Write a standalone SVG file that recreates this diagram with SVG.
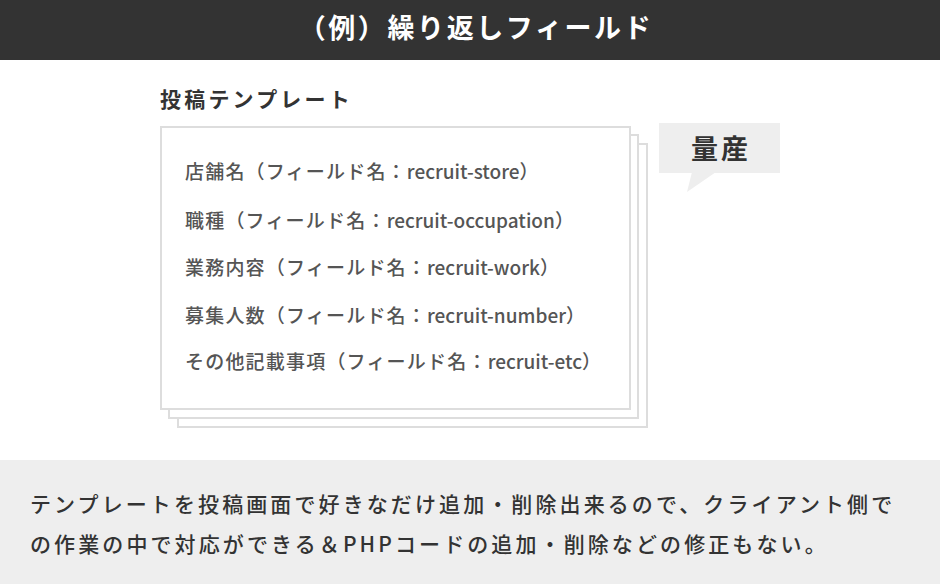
<svg xmlns="http://www.w3.org/2000/svg" width="940" height="584" viewBox="0 0 940 584">
<style>
text{font-family:"Noto Sans CJK JP","Noto Sans",sans-serif}
.card{fill:#fff;stroke:#ddd;stroke-width:2}
.item{font-size:19px;fill:#555;font-weight:500;letter-spacing:1.2px}
.lat{letter-spacing:0}
.desc{font-size:21px;fill:#333;font-weight:500;letter-spacing:3.1px}
</style>
<rect x="0" y="0" width="940" height="584" fill="#fff"/>
<g id="header">
<rect x="0" y="0" width="940" height="60" fill="#333"/>
<text x="476" y="38" text-anchor="middle" font-size="27" font-weight="700" fill="#fff" letter-spacing="2.6">（例）繰り返しフィールド</text>
</g>
<g id="template">
<text x="160" y="107" font-size="21" font-weight="700" fill="#333" letter-spacing="3.2">投稿テンプレート</text>
<rect class="card" x="178" y="144" width="469" height="283"/>
<rect class="card" x="169" y="135" width="469" height="283"/>
<rect class="card" x="161" y="127" width="469" height="282"/>
<text class="item" x="185" y="179">店舗名（フィールド名：<tspan class="lat">recruit-store</tspan>）</text>
<text class="item" x="185" y="228">職種（フィールド名：<tspan class="lat">recruit-occupation</tspan>）</text>
<text class="item" x="185" y="275">業務内容（フィールド名：<tspan class="lat">recruit-work</tspan>）</text>
<text class="item" x="185" y="323">募集人数（フィールド名：<tspan class="lat">recruit-number</tspan>）</text>
<text class="item" x="185" y="369">その他記載事項（フィールド名：<tspan class="lat">recruit-etc</tspan>）</text>
</g>
<g id="bubble">
<rect x="659" y="123" width="121" height="50" fill="#eee"/>
<polygon points="692,172 716,172 687,192" fill="#eee"/>
<text x="721" y="159" text-anchor="middle" font-size="27" font-weight="700" fill="#333" letter-spacing="3">量産</text>
</g>
<g id="footer">
<rect x="0" y="460" width="940" height="124" fill="#eee"/>
<text class="desc" x="30" y="512">テンプレートを投稿画面で好きなだけ追加・削除出来るので、クライアント側で</text>
<text class="desc" x="30" y="552">の作業の中で対応ができる＆PHPコードの追加・削除などの修正もない。</text>
</g>
<g id="connectors"/>
</svg>
